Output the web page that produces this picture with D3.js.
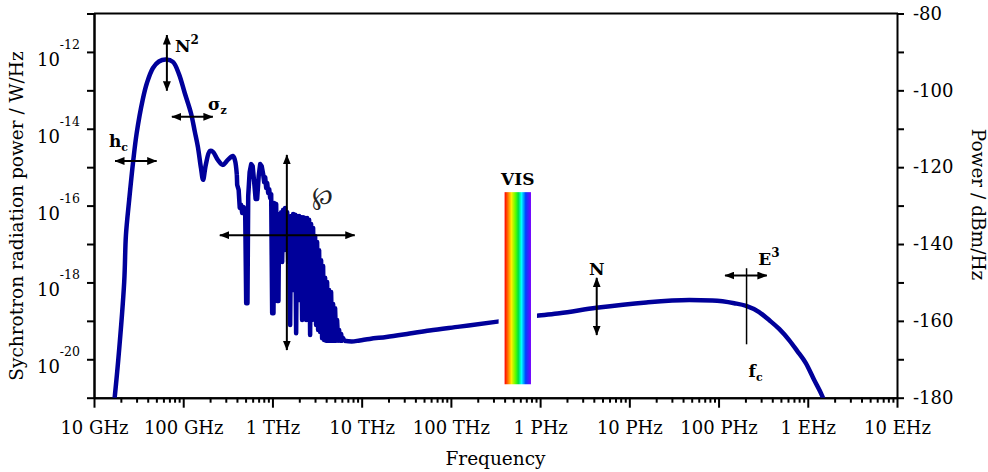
<!DOCTYPE html>
<html>
<head>
<meta charset="utf-8">
<script src="https://d3js.org/d3.v7.min.js"></script>
<style>
  body { margin: 0; background: #fff; }
  svg { display: block; }
  svg text { font-family: "DejaVu Serif", serif; fill: #000; }
</style>
</head>
<body>
<div class="board"></div>
<script>
// axis ticks
var freqTicks = [1e10, 1e11, 1e12, 1e13, 1e14, 1e15, 1e16, 1e17, 1e18, 1e19];
var freqLabels = ['10 GHz', '100 GHz', '1 THz', '10 THz', '100 THz', '1 PHz', '10 PHz', '100 PHz', '1 EHz', '10 EHz'];
var powerExps = [-12, -14, -16, -18, -20];
var dbmTicks = [-80, -100, -120, -140, -160, -180];

// coherent main lobe: frequency in GHz, power in dBm/Hz
var lobeGHz = [16.5, 18.7, 21.8, 22.8, 24.8, 27.5, 30.1, 35.1, 39.2, 45.8,
               53.4, 64.0, 76.6, 89.4, 104, 122, 135, 146, 158, 167,
               179, 199, 215, 244, 278, 316, 360, 379, 399];
var lobeDbm = [-183.2, -170.2, -149.9, -137.7, -128.5, -118.4, -111.1, -102.5, -98.1, -94.2,
               -92.5, -92.0, -92.6, -95.7, -100.7, -105.9, -110.8, -114.7, -120.2, -123.3,
               -119.4, -115.8, -116.0, -118.1, -119.4, -118.1, -117.1, -118.1, -122.0];

// modulated (microbunching) part: frequency in THz, power in dBm/Hz
var combTHz = [0.399, 0.4025, 0.418, 0.430, 0.446, 0.458, 0.476, 0.495, 0.508, 0.525,
               0.535, 0.555, 0.578, 0.600, 0.624, 0.648, 0.674, 0.701, 0.729, 0.757,
               0.787, 0.808, 0.829, 0.851, 0.873, 0.896, 0.919, 0.943, 0.968, 0.993,
               1.027, 1.045, 1.073, 1.101, 1.130, 1.168, 1.189, 1.220, 1.252, 1.285,
               1.318, 1.353, 1.388, 1.424, 1.462, 1.500, 1.539, 1.579, 1.620, 1.663,
               1.706, 1.751, 1.796, 1.843, 1.891, 1.941, 1.991, 2.043, 2.097, 2.151,
               2.207, 2.265, 2.324, 2.385, 2.447, 2.511, 2.577, 2.644, 2.713, 2.784,
               2.857, 2.931, 3.008, 3.086, 3.167, 3.250, 3.335, 3.422, 3.511, 3.603,
               3.697, 3.793, 3.892, 3.994, 4.098, 4.205, 4.315, 4.428, 4.544, 4.662,
               4.784, 4.909, 5.037, 5.169, 5.304, 5.442, 5.585, 5.731, 5.880, 6.034,
               6.191, 6.353];
var combDbm = [-122.0, -124.6, -125.9, -130.6, -129.8, -131.9, -130.4, -131.7, -155.4, -155.4,
               -127.5, -121.3, -119.2, -119.7, -123.9, -128.3, -128.3, -122.3, -119.2, -119.7,
               -121.8, -123.9, -122.6, -125.4, -124.1, -126.7, -125.7, -128.0, -127.0, -158.0,
               -158.0, -129.3, -131.1, -129.6, -154.8, -154.8, -132.2, -136.4, -131.7, -144.7,
               -131.1, -141.6, -130.6, -139.0, -131.7, -144.7, -134.3, -161.1, -132.7, -146.8,
               -132.2, -152.0, -132.4, -163.2, -132.7, -154.6, -132.7, -149.4, -133.0, -159.8,
               -133.0, -154.6, -133.2, -159.8, -133.2, -152.0, -133.7, -163.7, -134.8, -159.8,
               -135.8, -157.2, -137.9, -161.1, -139.5, -162.4, -141.6, -162.9, -144.2, -164.5,
               -145.7, -165.0, -148.8, -165.2, -149.9, -165.2, -152.0, -165.2, -152.5, -165.2,
               -155.6, -165.2, -156.7, -165.2, -159.8, -165.2, -162.4, -165.2, -163.4, -165.2,
               -164.5, -165.2];

// incoherent tail up to the critical frequency: frequency in Hz, power in dBm/Hz
var tailHz = [6.35e12, 7.73e12, 9.50e12, 1.23e13, 1.89e13, 3.45e13, 5.77e13, 1.25e14, 3.33e14, 9.10e14,
              1.65e15, 4.27e15, 1.55e16, 4.70e16, 8.50e16, 1.50e17, 2.04e17, 2.85e17, 3.69e17, 4.78e17,
              6.18e17, 7.60e17, 9.51e17, 1.18e18, 1.46e18, 1.65e18];
var tailDbm = [-165.2, -165.4, -165.1, -164.7, -164.2, -163.3, -162.5, -161.5, -160.2, -158.7,
               -158.0, -156.6, -155.2, -154.6, -154.7, -155.4, -156.1, -157.7, -159.8, -162.1,
               -165.0, -167.8, -171.0, -175.4, -179.7, -183.2];

// visible light band (Hz) and critical frequency
var visBand = [4.0e14, 7.9e14];
var critFreq = 2.06e17;

var width = 988;
var height = 472;
// plot frame (window.top is reserved, hence the names)
var plotL = 94, plotR = 897, plotT = 13.5, plotB = 397.7;

var svg = d3.select('.board').append('svg')
    .attr('width', width)
    .attr('height', height);

var x = d3.scaleLog().domain([1e10, 1e19]).range([plotL, plotR]);
var yW = d3.scaleLog().domain([1e-21, 1e-11]).range([plotB, plotT]);
var yDbm = d3.scaleLinear().domain([-180, -80]).range([plotB, plotT]);

var defs = svg.append('defs');
defs.append('clipPath').attr('id', 'plot')
  .append('rect')
    .attr('x', plotL).attr('y', plotT)
    .attr('width', plotR - plotL).attr('height', plotB - plotT);

defs.append('marker')
    .attr('id', 'head')
    .attr('viewBox', '0 0 10 8')
    .attr('refX', 9.5).attr('refY', 4)
    .attr('markerWidth', 10).attr('markerHeight', 8)
    .attr('markerUnits', 'userSpaceOnUse')
    .attr('orient', 'auto-start-reverse')
  .append('path')
    .attr('d', 'M0,0L10,4L0,8z')
    .attr('fill', '#000');

var rainbow = defs.append('linearGradient').attr('id', 'rainbow')
    .attr('x1', '0%').attr('x2', '100%').attr('y1', '0%').attr('y2', '0%');
[['0%', '#ff0000'], ['12%', '#ff6a00'], ['26%', '#ffee00'], ['42%', '#55ff00'],
 ['52%', '#00e040'], ['64%', '#00ffff'], ['80%', '#0040ff'], ['100%', '#7a00ff']]
  .forEach(function (s) {
    rainbow.append('stop').attr('offset', s[0]).attr('stop-color', s[1]);
  });

// ---- axes ----
function tidy(g, size) {
  g.attr('font-family', null).attr('font-size', null);
  g.select('.domain').attr('stroke-width', 2);
  g.selectAll('.tick line').attr('stroke-width', 2);
  g.selectAll('.tick text').style('font-size', size + 'px');
}

var minorFreq = [];
freqTicks.slice(0, -1).forEach(function (f) {
  for (var k = 2; k < 10; k++) minorFreq.push(f * k);
});

svg.append('g')
    .attr('transform', 'translate(0,' + plotB + ')')
    .call(d3.axisBottom(x).tickValues(minorFreq).tickSize(5).tickSizeOuter(0).tickFormat(''))
    .call(tidy, 18);

var gx = svg.append('g')
    .attr('transform', 'translate(0,' + plotB + ')')
    .call(d3.axisBottom(x).tickValues(freqTicks).tickSize(10).tickSizeOuter(0)
      .tickFormat(function (d, i) { return freqLabels[i]; }))
    .call(tidy, 18);
gx.selectAll('.tick text').attr('dy', null).attr('y', 36);

var oddExps = [-21, -19, -17, -15, -13, -11];
svg.append('g')
    .attr('transform', 'translate(' + plotL + ',0)')
    .call(d3.axisLeft(yW).tickValues(oddExps.map(function (e) { return Math.pow(10, e); }))
      .tickSize(7).tickSizeOuter(0).tickFormat(''))
    .call(tidy, 18);

var gl = svg.append('g')
    .attr('transform', 'translate(' + plotL + ',0)')
    .call(d3.axisLeft(yW).tickValues(powerExps.map(function (e) { return Math.pow(10, e); }))
      .tickSize(7).tickSizeOuter(0))
    .call(tidy, 18);
gl.selectAll('.tick text').each(function (d, i) {
  var t = d3.select(this).text(null).attr('x', -14).attr('dy', null).attr('y', 13.5);
  t.append('tspan').text('10');
  t.append('tspan').attr('dy', -17).style('font-size', '12.5px').text(powerExps[i]);
});

svg.append('g')
    .attr('transform', 'translate(' + plotR + ',0)')
    .call(d3.axisRight(yDbm).tickValues(d3.range(-180, -79, 10)).tickSize(7).tickPadding(9)
      .tickSizeOuter(0)
      .tickFormat(function (d) { return dbmTicks.indexOf(d) >= 0 ? String(d) : ''; }))
    .call(tidy, 18);

svg.append('line')
    .attr('x1', plotL).attr('x2', plotR + 1)
    .attr('y1', plotT).attr('y2', plotT)
    .attr('stroke', '#000').attr('stroke-width', 2);

// axis titles
svg.append('text')
    .attr('x', (plotL + plotR) / 2).attr('y', 465)
    .attr('text-anchor', 'middle')
    .style('font-size', '18.5px')
    .text('Frequency');

svg.append('text')
    .attr('transform', 'translate(23,216) rotate(-90)')
    .attr('text-anchor', 'middle')
    .style('font-size', '18.5px')
    .text('Sychrotron radiation power / W/Hz');

svg.append('text')
    .attr('transform', 'translate(971.5,204.5) rotate(90)')
    .attr('text-anchor', 'middle')
    .style('font-size', '18.5px')
    .text('Power / dBm/Hz');

// ---- spectrum ----
var line = d3.line()
    .x(function (d) { return x(d[0]); })
    .y(function (d) { return yDbm(d[1]); });

var curves = svg.append('g')
    .attr('clip-path', 'url(#plot)')
    .attr('fill', 'none')
    .attr('stroke', '#00009a')
    .attr('stroke-width', 4.5)
    .attr('stroke-linejoin', 'round');

curves.append('path')
    .attr('d', line.curve(d3.curveCatmullRom)(d3.zip(lobeGHz.map(function (v) { return v * 1e9; }), lobeDbm)));
curves.append('path')
    .attr('d', line.curve(d3.curveLinear)(d3.zip(combTHz.map(function (v) { return v * 1e12; }), combDbm)));
curves.append('path')
    .attr('d', line.curve(d3.curveMonotoneX)(d3.zip(tailHz, tailDbm)));

// visible band
var visTop = yDbm(-126.5), visBot = yDbm(-176.5);
svg.append('rect')
    .attr('x', x(visBand[0]) - 6).attr('y', visTop)
    .attr('width', x(visBand[1]) - x(visBand[0]) + 12).attr('height', visBot - visTop)
    .attr('fill', '#fff');
svg.append('rect')
    .attr('x', x(visBand[0])).attr('y', visTop)
    .attr('width', x(visBand[1]) - x(visBand[0])).attr('height', visBot - visTop)
    .attr('fill', 'url(#rainbow)');

// ---- annotations ----
var arrows = [
  [[6.56e10, -85.6], [6.56e10, -100.1]],   // N^2
  [[7.46e10, -106.9], [2.15e11, -106.9]],  // sigma_z
  [[1.72e10, -118.4], [5.04e10, -118.4]],  // h_c
  [[1.45e12, -116.8], [1.45e12, -167.6]],  // form factor, vertical
  [[2.57e11, -137.7], [8.36e12, -137.7]],  // form factor, horizontal
  [[4.31e15, -148.8], [4.31e15, -163.7]],  // N
  [[1.18e17, -148.2], [3.48e17, -148.2]]   // E^3
];

svg.append('g').selectAll('line')
    .data(arrows)
  .enter().append('line')
    .attr('x1', function (d) { return x(d[0][0]); })
    .attr('y1', function (d) { return yDbm(d[0][1]); })
    .attr('x2', function (d) { return x(d[1][0]); })
    .attr('y2', function (d) { return yDbm(d[1][1]); })
    .attr('stroke', '#000')
    .attr('stroke-width', 2)
    .attr('marker-start', 'url(#head)')
    .attr('marker-end', 'url(#head)');

svg.append('line')
    .attr('x1', x(critFreq)).attr('x2', x(critFreq))
    .attr('y1', yDbm(-146.3)).attr('y2', yDbm(-166.1))
    .attr('stroke', '#000').attr('stroke-width', 1.5);

// bold labels: [freq, dBm, main, script, raised?, anchor]
var notes = [
  [8.07e10, -89.9, 'N', '2', true, 'start'],
  [1.89e11, -105.1, 'σ', 'z', false, 'start'],
  [1.47e10, -114.7, 'h', 'c', false, 'start'],
  [5.62e14, -124.6, 'VIS', '', false, 'middle'],
  [4.31e15, -148.1, 'N', '', false, 'middle'],
  [2.78e17, -145.5, 'E', '3', true, 'start'],
  [2.17e17, -174.7, 'f', 'c', false, 'start']
];

notes.forEach(function (n) {
  var t = svg.append('text')
      .attr('x', x(n[0])).attr('y', yDbm(n[1]))
      .attr('text-anchor', n[5])
      .style('font-size', '17px')
      .style('font-weight', 'bold')
      .text(n[2]);
  if (n[3]) {
    t.append('tspan')
        .attr('dy', n[4] ? -8 : 4)
        .style('font-size', n[4] ? '12px' : '11px')
        .text(n[3]);
  }
});

svg.append('text')
    .attr('x', x(3.66e12)).attr('y', yDbm(-129.6))
    .attr('text-anchor', 'middle')
    .style('font-size', '25px')
    .style('fill', '#222')
    .text('℘');
</script>
</body>
</html>
